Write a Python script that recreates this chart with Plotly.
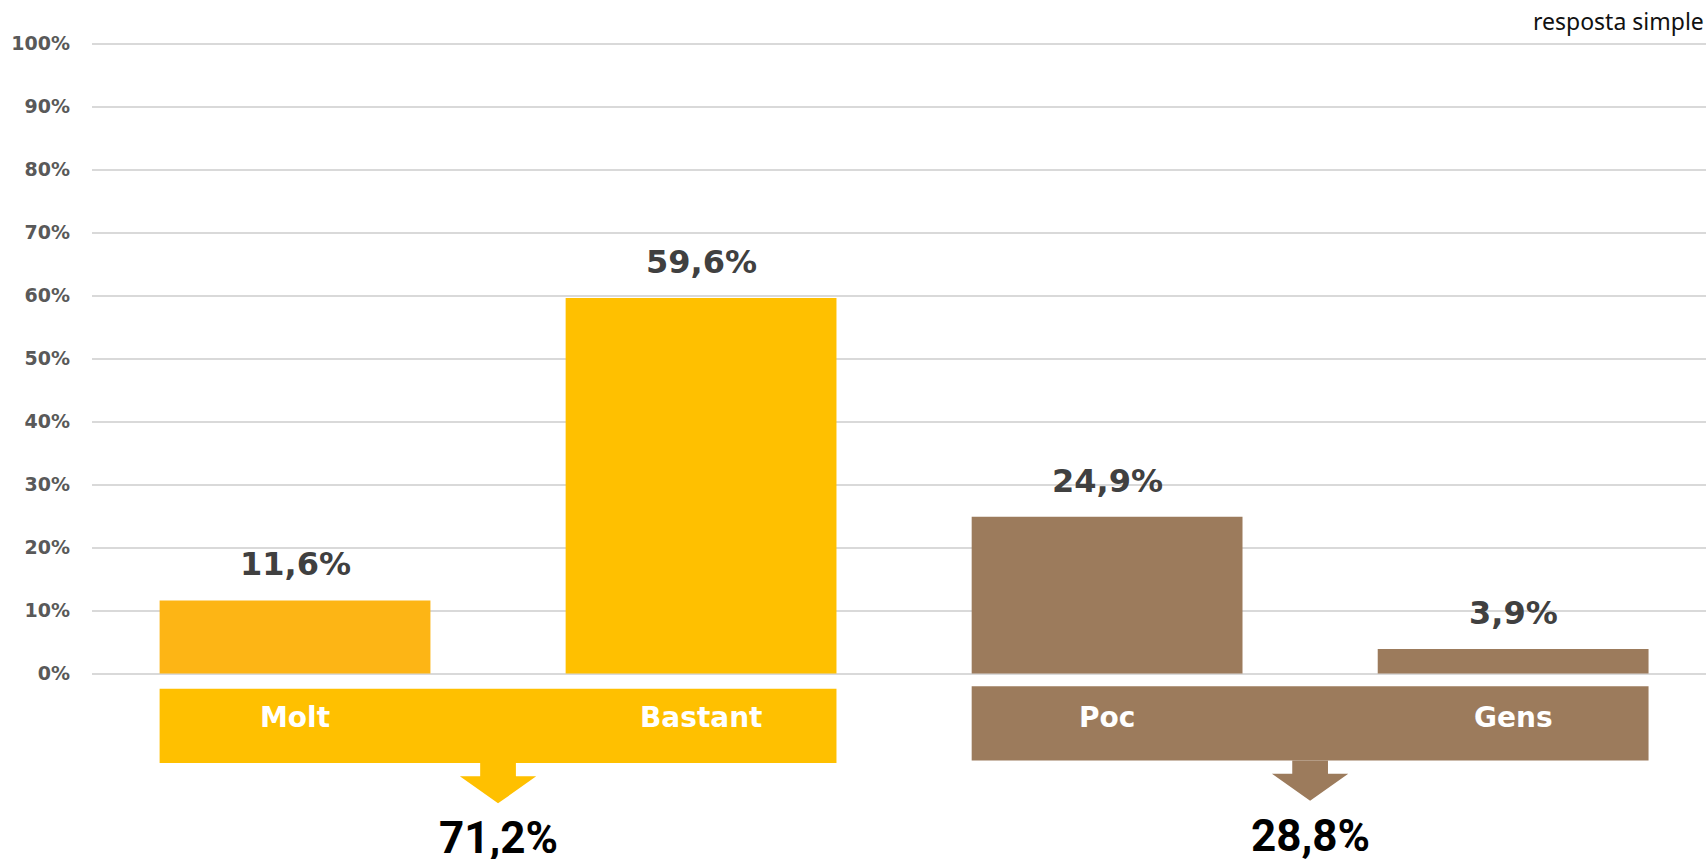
import plotly.graph_objects as go

categories = ["Molt", "Bastant", "Poc", "Gens"]
values = [11.6, 59.6, 24.9, 3.9]
bar_colors = ["#FDB515", "#FFC000", "#9C7B5C", "#9C7B5C"]
value_labels = ["11,6%", "59,6%", "24,9%", "3,9%"]

group_members = [[0, 1], [2, 3]]
group_totals = ["71,2%", "28,8%"]
group_colors = ["#FFC000", "#9C7B5C"]

tick_vals = [0, 10, 20, 30, 40, 50, 60, 70, 80, 90, 100]
tick_text = [f"{v}%" for v in tick_vals]

BAR_W = 0.667

fig = go.Figure(
    go.Bar(
        x=list(range(len(categories))),
        y=values,
        marker=dict(color=bar_colors, line=dict(width=0)),
        width=BAR_W,
        hoverinfo="skip",
    )
)

annotations = []
# value labels above bars
for i, (v, lab) in enumerate(zip(values, value_labels)):
    annotations.append(dict(
        x=i, y=v, text=f"<b>{lab}</b>", showarrow=False,
        yanchor="middle", yshift=36,
        font=dict(family="DejaVu Sans", size=32, color="#404040"),
    ))

shapes = []
# group boxes, category names, arrows and totals
box_y = [(-2.4, -14.2), (-2.0, -13.8)]
for g, members in enumerate(group_members):
    x0 = members[0] - BAR_W / 2
    x1 = members[-1] + BAR_W / 2
    y_top, y_bot = box_y[g]
    col = group_colors[g]
    shapes.append(dict(type="rect", xref="x", yref="y", x0=x0, x1=x1,
                       y0=y_bot, y1=y_top, fillcolor=col, line=dict(width=0),
                       layer="above"))
    for m in members:
        annotations.append(dict(
            x=m, y=-7.0, text=f"<b>{categories[m]}</b>",
            showarrow=False, yanchor="middle",
            font=dict(family="DejaVu Sans", size=28, color="white"),
        ))
    cx = (members[0] + members[-1]) / 2
    sw, hw = 0.044, 0.094
    s_bot = y_bot - 2.1
    tip = y_bot - 6.4
    path = (f"M {cx - sw} {y_bot} L {cx + sw} {y_bot} L {cx + sw} {s_bot} "
            f"L {cx + hw} {s_bot} L {cx} {tip} L {cx - hw} {s_bot} "
            f"L {cx - sw} {s_bot} Z")
    shapes.append(dict(type="path", xref="x", yref="y", path=path,
                       fillcolor=col, line=dict(width=0), layer="above"))
    annotations.append(dict(
        x=cx, y=y_bot - 11.9, text=f"<b>{group_totals[g]}</b>",
        showarrow=False, yanchor="middle", borderpad=0,
        font=dict(family="Roboto", size=44, color="#000000"),
    ))

annotations.append(dict(
    xref="paper", yref="paper", x=1.0, y=1.0235, xanchor="right",
    yanchor="middle", text="resposta simple", showarrow=False,
    font=dict(family="Noto Sans", size=23, color="#111111"),
))

fig.update_layout(
    width=1706, height=859,
    margin=dict(l=92, r=0, t=40, b=9),
    paper_bgcolor="white", plot_bgcolor="white",
    showlegend=False,
    bargap=0.333,
    xaxis=dict(range=[-0.5, 3.475], showticklabels=False, showgrid=False,
               zeroline=False, fixedrange=True),
    yaxis=dict(range=[-28, 100.556], tickvals=tick_vals, ticktext=tick_text,
               showgrid=True, gridcolor="#D9D9D9", gridwidth=2,
               zeroline=False, ticklabelstandoff=21,
               tickfont=dict(family="DejaVu Sans", size=19, color="#595959",
                             weight="bold"),
               fixedrange=True),
    annotations=annotations,
    shapes=shapes,
)

# drop the default page margin so the figure fills the window
fig.write_html(
    "out.html",
    config={"displayModeBar": False},
    post_script="document.body.style.margin='0';document.body.style.overflow='hidden';",
)
